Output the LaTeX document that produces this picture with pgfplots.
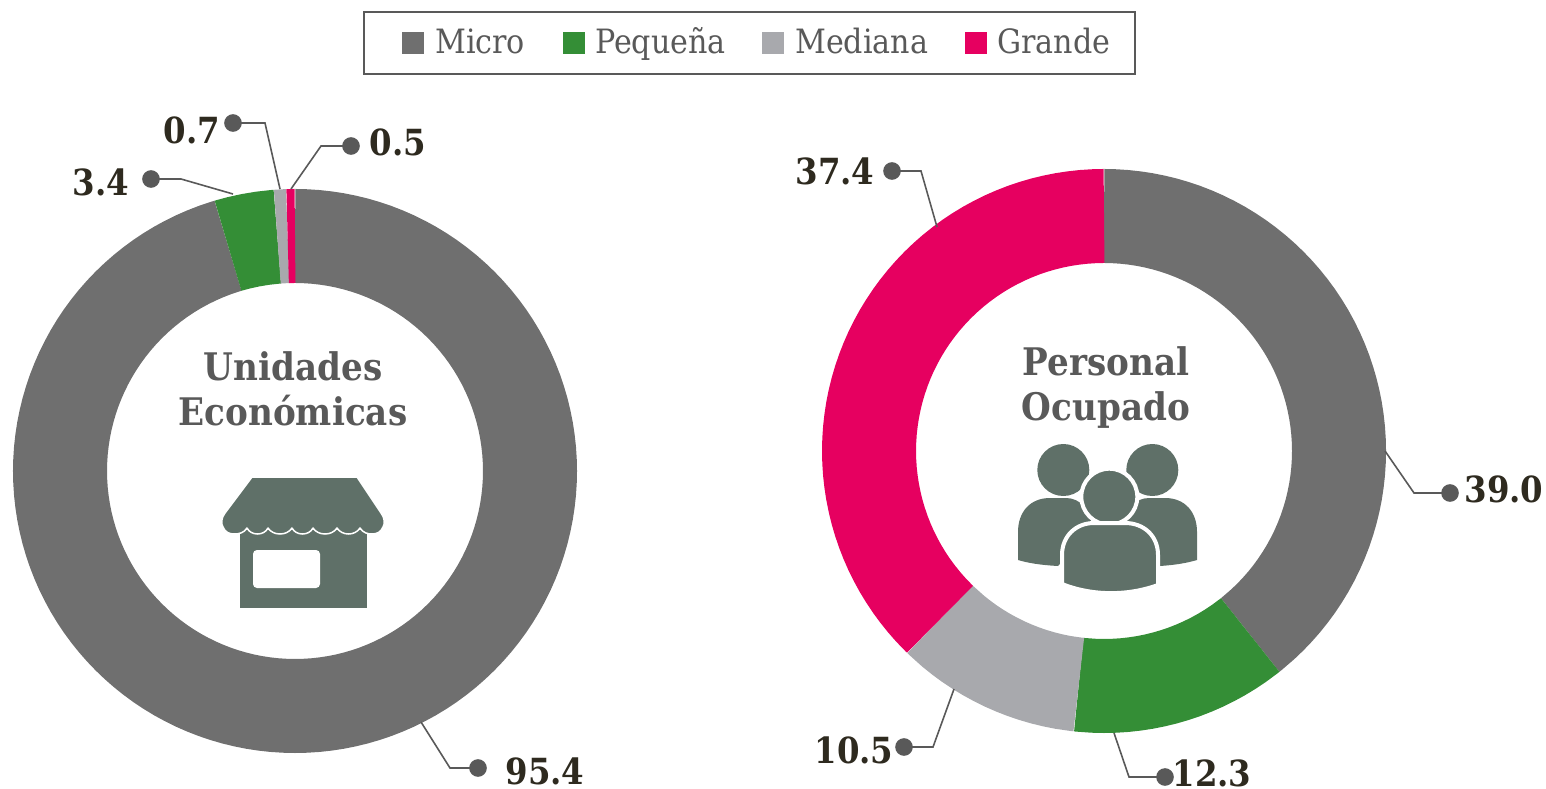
\documentclass[border=0pt]{standalone}
\usepackage{fontspec}
\usepackage{pgfplots}
\pgfplotsset{compat=1.18}
\setmainfont{DejaVu Serif Condensed}
\definecolor{cmicro}{HTML}{6F6F6F}
\definecolor{cpeq}{HTML}{348E36}
\definecolor{cmed}{HTML}{A8A9AD}
\definecolor{cgra}{HTML}{E60060}
\definecolor{ctxt}{HTML}{595959}
\definecolor{cnum}{HTML}{2E2A1F}
\definecolor{cicon}{HTML}{5F7068}
\pgfplotsset{page/.style={scale only axis,width=1546bp,height=789bp,hide axis,clip=false,anchor=south west,at={(0,0)}},
  ring/.style={data cs=polar,line width=94bp,line cap=butt,forget plot},
  lead/.style={color=ctxt,line width=1.6bp,mark=*,mark size=8bp,mark indices={1},mark options={fill=ctxt,draw=ctxt},forget plot}}
\newcommand{\num}[1]{\fontsize{36bp}{38bp}\selectfont\bfseries #1}
\newcommand{\ttl}[1]{\fontsize{38bp}{40bp}\selectfont\bfseries #1}
\newcommand{\leg}[1]{\fontsize{33.5bp}{35bp}\selectfont #1}
\begin{document}
\begin{tikzpicture}
\useasboundingbox (0,0) rectangle (1546bp,789bp);
% Unidades Economicas: Micro 95.4, Pequena 3.4, Mediana 0.7, Grande 0.5 (angles = 90 - 3.6*cumulative)
\begin{axis}[page,xmin=-295,xmax=1251,ymin=-318,ymax=471]
\addplot[ring,color=cmicro] coordinates {(90,235)(89.5,235)(87.5,235)(85,235)(82.5,235)(80,235)(77.5,235)(75,235)(72.5,235)(70,235)(67.5,235)(65,235)(62.5,235)(60,235)(57.5,235)(55,235)(52.5,235)(50,235)(47.5,235)(45,235)(42.5,235)(40,235)(37.5,235)(35,235)(32.5,235)(30,235)(27.5,235)(25,235)(22.5,235)(20,235)(17.5,235)(15,235)(12.5,235)(10,235)(7.5,235)(5,235)(2.5,235)(0,235)(-2.5,235)(-5,235)(-7.5,235)(-10,235)(-12.5,235)(-15,235)(-17.5,235)(-20,235)(-22.5,235)(-25,235)(-27.5,235)(-30,235)(-32.5,235)(-35,235)(-37.5,235)(-40,235)(-42.5,235)(-45,235)(-47.5,235)(-50,235)(-52.5,235)(-55,235)(-57.5,235)(-60,235)(-62.5,235)(-65,235)(-67.5,235)(-70,235)(-72.5,235)(-75,235)(-77.5,235)(-80,235)(-82.5,235)(-85,235)(-87.5,235)(-90,235)(-92.5,235)(-95,235)(-97.5,235)(-100,235)(-102.5,235)(-105,235)(-107.5,235)(-110,235)(-112.5,235)(-115,235)(-117.5,235)(-120,235)(-122.5,235)(-125,235)(-127.5,235)(-130,235)(-132.5,235)(-135,235)(-137.5,235)(-140,235)(-142.5,235)(-145,235)(-147.5,235)(-150,235)(-152.5,235)(-155,235)(-157.5,235)(-160,235)(-162.5,235)(-165,235)(-167.5,235)(-170,235)(-172.5,235)(-175,235)(-177.5,235)(-180,235)(-182.5,235)(-185,235)(-187.5,235)(-190,235)(-192.5,235)(-195,235)(-197.5,235)(-200,235)(-202.5,235)(-205,235)(-207.5,235)(-210,235)(-212.5,235)(-215,235)(-217.5,235)(-220,235)(-222.5,235)(-225,235)(-227.5,235)(-230,235)(-232.5,235)(-235,235)(-237.5,235)(-240,235)(-242.5,235)(-245,235)(-247.5,235)(-250,235)(-252.94,235)(-253.44,235)};
\addplot[ring,color=cpeq] coordinates {(-253.44,235)(-253.94,235)(-256,235)(-259,235)(-262,235)(-265.18,235)(-265.68,235)};
\addplot[ring,color=cmed] coordinates {(-265.68,235)(-266.18,235)(-267.7,235)(-268.2,235)};
\addplot[ring,color=cgra] coordinates {(-268.2,235)(-268.7,235)(-269.5,235)(-270,235)};
\end{axis}
% Personal Ocupado: Micro 39.0, Pequena 12.3, Mediana 10.5, Grande 37.4 (sum 99.2)
\begin{axis}[page,xmin=-1104,xmax=442,ymin=-338,ymax=451]
\addplot[ring,color=cmicro] coordinates {(90,235)(89.5,235)(87.5,235)(85,235)(82.5,235)(80,235)(77.5,235)(75,235)(72.5,235)(70,235)(67.5,235)(65,235)(62.5,235)(60,235)(57.5,235)(55,235)(52.5,235)(50,235)(47.5,235)(45,235)(42.5,235)(40,235)(37.5,235)(35,235)(32.5,235)(30,235)(27.5,235)(25,235)(22.5,235)(20,235)(17.5,235)(15,235)(12.5,235)(10,235)(7.5,235)(5,235)(2.5,235)(0,235)(-2.5,235)(-5,235)(-7.5,235)(-10,235)(-12.5,235)(-15,235)(-17.5,235)(-20,235)(-22.5,235)(-25,235)(-27.5,235)(-30,235)(-32.5,235)(-35,235)(-37.5,235)(-40,235)(-42.5,235)(-45,235)(-47.5,235)(-51.03,235)(-51.53,235)};
\addplot[ring,color=cpeq] coordinates {(-51.53,235)(-52.03,235)(-55,235)(-57.5,235)(-60,235)(-62.5,235)(-65,235)(-67.5,235)(-70,235)(-72.5,235)(-75,235)(-77.5,235)(-80,235)(-82.5,235)(-85,235)(-87.5,235)(-90,235)(-92.5,235)(-95.67,235)(-96.17,235)};
\addplot[ring,color=cmed] coordinates {(-96.17,235)(-96.67,235)(-100,235)(-102.5,235)(-105,235)(-107.5,235)(-110,235)(-112.5,235)(-115,235)(-117.5,235)(-120,235)(-122.5,235)(-125,235)(-127.5,235)(-130,235)(-133.77,235)(-134.27,235)};
\addplot[ring,color=cgra] coordinates {(-134.27,235)(-134.77,235)(-137.5,235)(-140,235)(-142.5,235)(-145,235)(-147.5,235)(-150,235)(-152.5,235)(-155,235)(-157.5,235)(-160,235)(-162.5,235)(-165,235)(-167.5,235)(-170,235)(-172.5,235)(-175,235)(-177.5,235)(-180,235)(-182.5,235)(-185,235)(-187.5,235)(-190,235)(-192.5,235)(-195,235)(-197.5,235)(-200,235)(-202.5,235)(-205,235)(-207.5,235)(-210,235)(-212.5,235)(-215,235)(-217.5,235)(-220,235)(-222.5,235)(-225,235)(-227.5,235)(-230,235)(-232.5,235)(-235,235)(-237.5,235)(-240,235)(-242.5,235)(-245,235)(-247.5,235)(-250,235)(-252.5,235)(-255,235)(-257.5,235)(-260,235)(-262.5,235)(-265,235)(-267.5,235)(-269.5,235)(-270,235)};
\end{axis}
% overlay in pixel coordinates of the reference
\begin{axis}[page,xmin=0,xmax=1546,ymin=0,ymax=789,y dir=reverse,nodes={inner sep=0pt}]
% leaders
\addplot[lead] coordinates {(233,123)(265,123)(280,189)};
\addplot[lead] coordinates {(351,146)(321,146)(291,189)};
\addplot[lead] coordinates {(151,179)(181,179)(233,194)};
\addplot[lead] coordinates {(478,768)(450,768)(421,722)};
\addplot[lead] coordinates {(892,171)(921,171)(937,227)};
\addplot[lead] coordinates {(1450,493)(1414,493)(1385,451)};
\addplot[lead] coordinates {(1165,777)(1129,777)(1114,733)};
\addplot[lead] coordinates {(904,747)(933,747)(954,689)};
% value labels
\node[text=cnum] at (192,130) {\num{0.7}};
\node[text=cnum] at (101,182) {\num{3.4}};
\node[text=cnum] at (398,142) {\num{0.5}};
\node[text=cnum] at (545,771) {\num{95.4}};
\node[text=cnum] at (835,171) {\num{37.4}};
\node[text=cnum] at (1504,489) {\num{39.0}};
\node[text=cnum] at (1212,773) {\num{12.3}};
\node[text=cnum] at (854,750) {\num{10.5}};
% titles
\node[text=ctxt,anchor=base] at (293,380) {\ttl{Unidades}};
\node[text=ctxt,anchor=base] at (293,425) {\ttl{Económicas}};
\node[text=ctxt,anchor=base] at (1106,375) {\ttl{Personal}};
\node[text=ctxt,anchor=base] at (1106,420) {\ttl{Ocupado}};
% legend
\draw[ctxt,line width=1.6bp] (364,12) rectangle (1135,74);
\fill[cmicro] (402,32) rectangle (424,54);
\fill[cpeq] (563,32) rectangle (585,54);
\fill[cmed] (762,32) rectangle (784,54);
\fill[cgra] (965,32) rectangle (987,54);
\node[text=ctxt,anchor=base west] at (435,54) {\leg{Micro}};
\node[text=ctxt,anchor=base west] at (595,54) {\leg{Pequeña}};
\node[text=ctxt,anchor=base west] at (795,54) {\leg{Mediana}};
\node[text=ctxt,anchor=base west] at (997,54) {\leg{Grande}};
% store icon
\fill[cicon] (240,530) rectangle (367,608);
\fill[white,rounded corners=4bp] (253,550) rectangle (320,588);
\fill[cicon,draw=white,line width=1.5bp,line join=round]
 (252,477) -- (357,477) -- (381,513)
 .. controls (385,518) and (385,524) .. (383,527)
 .. controls (381,532) and (377,534) .. (372,534)
 .. controls (368,534) and (363,533) .. (360,528)
 .. controls (355,536) and (342,536) .. (337,528)
 .. controls (332,536) and (318,536) .. (313,528)
 .. controls (309,536) and (296,536) .. (292,528)
 .. controls (287,536) and (273,536) .. (268,528)
 .. controls (264,536) and (251,536) .. (247,528)
 .. controls (244,533) and (239,534) .. (234,534)
 .. controls (229,534) and (225,532) .. (223,527)
 .. controls (221,524) and (221,518) .. (225,513)
 -- cycle;
% people icon
\fill[cicon] (1063.3,470) circle[radius=26];
\fill[cicon] (1152.3,470) circle[radius=26];
\fill[cicon] (1018,560) -- (1018,532) .. controls (1018,512) and (1030,498) .. (1050,498)
 -- (1066,498) .. controls (1080,498) and (1092,510) .. (1092,530) -- (1058,566) .. controls (1040,565) and (1028,563) .. (1018,560) -- cycle;
\fill[cicon] (1197,560) -- (1197,532) .. controls (1197,512) and (1185,498) .. (1165,498)
 -- (1149,498) .. controls (1135,498) and (1123,510) .. (1123,530) -- (1160,566) .. controls (1175,565) and (1187,563) .. (1197,560) -- cycle;
\fill[cicon,draw=white,line width=4bp] (1109.3,496.7) circle[radius=28];
\fill[cicon,draw=white,line width=4bp] (1062,584) -- (1062,555) .. controls (1062,536) and (1076,523) .. (1094,523)
 -- (1125,523) .. controls (1144,523) and (1158,536) .. (1158,555) -- (1158,585) .. controls (1128,596) and (1092,596) .. (1062,584) -- cycle;
\end{axis}
\end{tikzpicture}
\end{document}
